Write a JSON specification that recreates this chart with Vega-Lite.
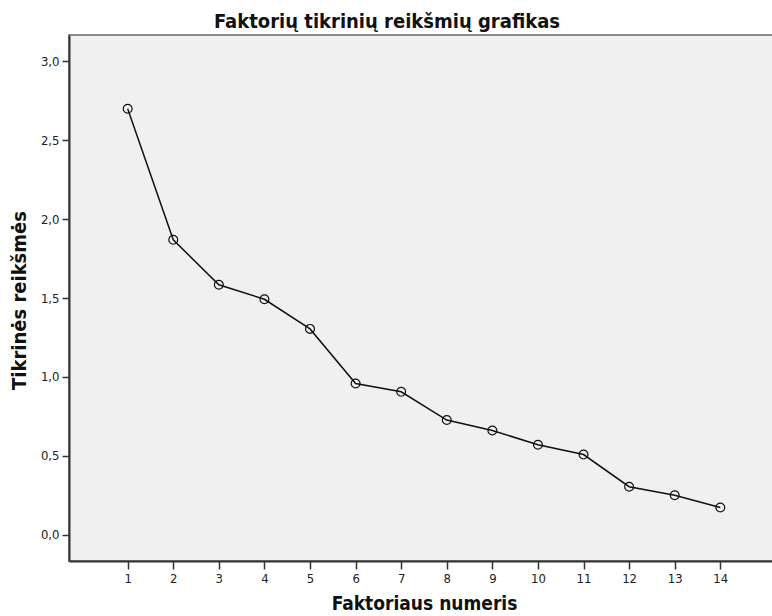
{
  "$schema": "https://vega.github.io/schema/vega-lite/v6.json",
  "autosize": "none",
  "width": 706,
  "height": 526,
  "padding": {"left": 69, "top": 35, "right": 0, "bottom": 55},
  "background": "white",
  "title": {
    "text": "Faktorių tikrinių reikšmių grafikas",
    "font": "DejaVu Sans Condensed",
    "fontSize": 20,
    "fontWeight": "bold",
    "color": "#111",
    "anchor": "middle",
    "dx": -35,
    "offset": 3
  },
  "config": {
    "view": {"fill": "#f0f0f0", "stroke": "#8a8a8a", "strokeWidth": 2},
    "axis": {
      "labelFont": "DejaVu Sans Condensed",
      "labelFontSize": 13,
      "labelColor": "#222",
      "titleFont": "DejaVu Sans Condensed",
      "titleFontSize": 20,
      "titleFontWeight": "bold",
      "titleColor": "#111",
      "domainColor": "#333",
      "domainWidth": 2,
      "tickColor": "#333",
      "tickWidth": 1.5,
      "grid": false
    }
  },
  "data": {
    "values": [
      {"factor": 1, "eigen": 2.70},
      {"factor": 2, "eigen": 1.869},
      {"factor": 3, "eigen": 1.584},
      {"factor": 4, "eigen": 1.492},
      {"factor": 5, "eigen": 1.304},
      {"factor": 6, "eigen": 0.958},
      {"factor": 7, "eigen": 0.905},
      {"factor": 8, "eigen": 0.726},
      {"factor": 9, "eigen": 0.66},
      {"factor": 10, "eigen": 0.569},
      {"factor": 11, "eigen": 0.507},
      {"factor": 12, "eigen": 0.303},
      {"factor": 13, "eigen": 0.249},
      {"factor": 14, "eigen": 0.171}
    ]
  },
  "encoding": {
    "x": {
      "field": "factor",
      "type": "quantitative",
      "scale": {"domain": [-0.287, 15.2], "nice": false, "zero": false},
      "axis": {
        "title": "Faktoriaus numeris",
        "values": [1,2,3,4,5,6,7,8,9,10,11,12,13,14],
        "tickSize": 8,
        "labelPadding": 3,
        "titleFontSize": 19,
        "titleX": 355,
        "titleY": 48,
        "titleAlign": "center",
        "titleBaseline": "alphabetic"
      }
    },
    "y": {
      "field": "eigen",
      "type": "quantitative",
      "scale": {"domain": [-0.168, 3.168], "nice": false, "zero": false},
      "axis": {
        "title": "Tikrinės reikšmės",
        "values": [0, 0.5, 1, 1.5, 2, 2.5, 3],
        "labelExpr": "replace(format(datum.value, '.1f'), '.', ',')",
        "tickSize": 7,
        "labelPadding": 3,
        "titleX": -44,
        "titleY": 265,
        "titleAlign": "center",
        "titleBaseline": "alphabetic",
        "titleAngle": -90
      }
    }
  },
  "layer": [
    {"mark": {"type": "line", "color": "#111", "strokeWidth": 1.5}},
    {"mark": {"type": "point", "shape": "circle", "filled": false, "color": "#111", "strokeWidth": 1.2, "size": 78, "opacity": 1}}
  ]
}
